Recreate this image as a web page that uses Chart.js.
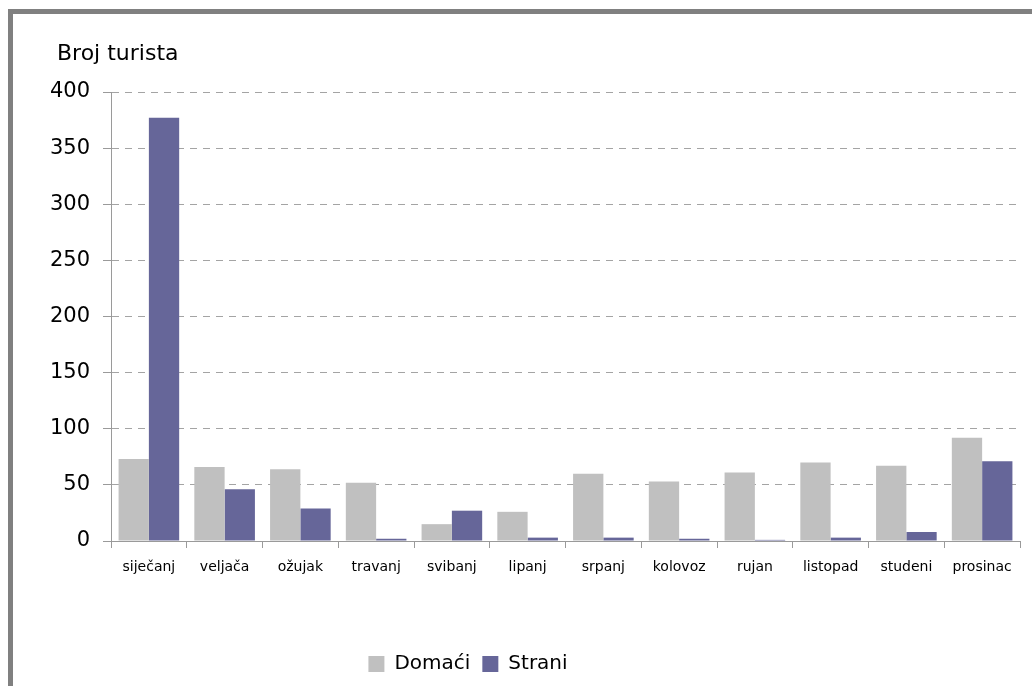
<!DOCTYPE html>
<html>
<head>
<meta charset="utf-8">
<title>Broj turista</title>
<script src="https://cdn.jsdelivr.net/npm/chart.js@4"></script>
<style>
    html, body { margin: 0; padding: 0; background: #ffffff; overflow: hidden; }
    #frame {
        position: absolute; left: 8px; top: 9px;
        width: 1100px; height: 760px;
        border-left: 5px solid #808080; border-top: 5px solid #808080;
    }
    #chart { position: absolute; left: 0; top: 0; }
</style>
</head>
<body>
<div id="frame"></div>
<canvas id="chart" width="1032" height="686"></canvas>
<script>
// podaci - broj turista po mjesecima
const months = ['siječanj', 'veljača', 'ožujak', 'travanj', 'svibanj', 'lipanj',
    'srpanj', 'kolovoz', 'rujan', 'listopad', 'studeni', 'prosinac'];
const domaci = [73, 66, 64, 52, 15, 26, 60, 53, 61, 70, 67, 92];
const strani = [377, 46, 29, 2, 27, 3, 3, 2, 1, 3, 8, 71];
const yTicks = [0, 50, 100, 150, 200, 250, 300, 350, 400];
const axisTitle = 'Broj turista';

const colors = {
    domaci: '#c0c0c0',
    strani: '#666699',
    axis: '#9a9a9a',
    grid: '#a4a4a4',
    text: '#000000'
};
const fontFamily = '"DejaVu Sans", Verdana, sans-serif';

// naslov osi iznad y-osi
const axisTitlePlugin = {
    id: 'axisTitle',
    afterDraw(chart) {
        const ctx = chart.ctx;
        ctx.save();
        ctx.font = '22px ' + fontFamily;
        ctx.fillStyle = colors.text;
        ctx.textAlign = 'left';
        ctx.textBaseline = 'alphabetic';
        ctx.fillText(axisTitle, chart.chartArea.left - 54, 60);
        ctx.restore();
    }
};

// legenda je u originalu malo lijevo od sredine
const legendShift = {
    id: 'legendShift',
    afterLayout(chart) {
        if (chart.legend) chart.legend.right -= 84;
    }
};

const ctx = document.getElementById('chart').getContext('2d');
new Chart(ctx, {
    type: 'bar',
    data: {
        labels: months,
        datasets: [
            {
                label: 'Domaći',
                data: domaci,
                backgroundColor: colors.domaci,
                borderWidth: 0,
                inflateAmount: 0
            },
            {
                label: 'Strani',
                data: strani,
                backgroundColor: colors.strani,
                borderWidth: 0,
                inflateAmount: 0
            }
        ]
    },
    options: {
        responsive: false,
        animation: false,
        layout: {
            padding: { top: 92, right: 12, bottom: 2, left: 0 }
        },
        datasets: {
            bar: { barPercentage: 1.0, categoryPercentage: 0.8 }
        },
        plugins: {
            legend: {
                display: true,
                position: 'bottom',
                labels: {
                    boxWidth: 16,
                    boxHeight: 16,
                    padding: 12,
                    color: colors.text,
                    font: { family: fontFamily, size: 20 }
                }
            },
            title: { display: false },
            tooltip: { enabled: false }
        },
        scales: {
            x: {
                afterFit(scale) { scale.height = 101; },
                grid: {
                    drawOnChartArea: false,
                    drawTicks: true,
                    tickLength: 7,
                    color: colors.axis,
                    offset: true
                },
                border: { color: colors.axis, width: 1 },
                ticks: {
                    color: colors.text,
                    padding: 11,
                    maxRotation: 0,
                    autoSkip: false,
                    font: { family: fontFamily, size: 14 }
                }
            },
            y: {
                min: 0,
                max: 400,
                afterFit(scale) { scale.width = 111; },
                afterBuildTicks(scale) {
                    scale.ticks = yTicks.map(v => ({ value: v }));
                },
                grid: {
                    color: colors.grid,
                    tickLength: 8,
                    tickColor: colors.axis,
                    drawTicks: true
                },
                border: { color: colors.axis, width: 1, dash: [7, 6] },
                ticks: {
                    color: colors.text,
                    padding: 13,
                    font: { family: fontFamily, size: 21 }
                }
            }
        }
    },
    plugins: [axisTitlePlugin, legendShift]
});
</script>
</body>
</html>
